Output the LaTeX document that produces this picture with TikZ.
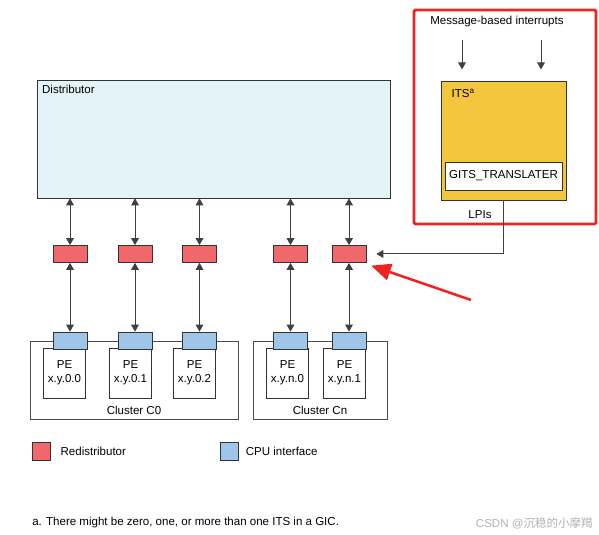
\documentclass[tikz,border=0pt]{standalone}
\usepackage{fontspec}
\setmainfont{Liberation Sans}
\newfontfamily\cjk{Noto Sans CJK SC}
\usepackage{xcolor}
\usetikzlibrary{positioning,arrows.meta,calc}
\definecolor{distfill}{HTML}{E3F3F8}
\definecolor{redist}{HTML}{F0676C}
\definecolor{cpuif}{HTML}{9FC5E8}
\definecolor{itsgold}{HTML}{F4C63E}
\definecolor{frame}{HTML}{EE2424}
\begin{document}
\begin{tikzpicture}[
    font=\fontsize{8.2}{10}\selectfont,
    box/.style={draw=black!80,line width=0.5pt,inner sep=0pt},
    rd/.style={box,fill=redist,minimum width=0.85cm,minimum height=0.425cm},
    cpu/.style={box,fill=cpuif,minimum width=0.85cm,minimum height=0.425cm},
    pe/.style={box,fill=white,minimum width=1.05cm,minimum height=1.25cm,align=center},
    clu/.style={box,draw=black!70},
    arr/.style={-{Triangle[length=5pt,width=5.5pt]},black!75,line width=0.7pt},
    darr/.style={{Triangle[length=5pt,width=5.5pt]}-{Triangle[length=5pt,width=5.5pt]},black!75,line width=0.7pt},
    lab/.style={inner sep=0pt,anchor=west}
  ]
    \useasboundingbox (0,0) rectangle (14.975,13.375);
    \node[draw=frame,line width=2pt,rounded corners=1pt,minimum width=4.55cm,minimum height=5.35cm] (frm) at (12.625,10.45) {};
    \node (msg) at (12.425,12.825) {Message-based interrupts};
    \node[box,fill=itsgold,minimum width=3.125cm,minimum height=2.975cm] (its) at (12.5875,9.8625) {};
    \node[lab,anchor=north west] (itslab) at ($(its.north west)+(0.27,-0.2)$) {ITS\textsuperscript{a}};
    \node[box,fill=white,minimum width=2.925cm,minimum height=0.7cm] (gits) at (12.5875,8.975) {GITS\_TRANSLATER};
    \node (lpi) at (12.0,8.0) {LPIs};
    \coordinate (in1) at (11.55,12.375);
    \coordinate (in2) at (13.525,12.375);
    \draw[arr,shorten >=0.28cm] (in1) -- (in1 |- its.north);
    \draw[arr,shorten >=0.28cm] (in2) -- (in2 |- its.north);

    \node[box,fill=distfill,minimum width=8.825cm,minimum height=2.95cm] (dist) at (5.3375,9.9) {};
    \node[lab,anchor=north west] (distlab) at ($(dist.north west)+(0.13,-0.12)$) {Distributor};

    \node[rd] (r1) at (1.75,7.025) {};
    \node[rd] (r2) at (3.375,7.025) {};
    \node[rd] (r3) at (4.9875,7.025) {};
    \node[rd] (r4) at (7.2625,7.025) {};
    \node[rd] (r5) at (8.725,7.025) {};

    \node[clu,minimum width=5.2cm,minimum height=1.95cm] (cl0) at (3.35,3.875) {};
    \node[clu,minimum width=3.35cm,minimum height=1.95cm] (cln) at (8.0,3.875) {};
    \node[above=0cm of cl0.south] (cl0lab) {Cluster C0};
    \node[above=0cm of cln.south] (clnlab) {Cluster Cn};

    \node[pe] (p1) at (1.6125,4.05) {PE\\x.y.0.0};
    \node[pe] (p2) at (3.2625,4.05) {PE\\x.y.0.1};
    \node[pe] (p3) at (4.8625,4.05) {PE\\x.y.0.2};
    \node[pe] (p4) at (7.1875,4.05) {PE\\x.y.n.0};
    \node[pe] (p5) at (8.6125,4.05) {PE\\x.y.n.1};

    \node[cpu] (c1) at (1.75,4.8625) {};
    \node[cpu] (c2) at (3.375,4.8625) {};
    \node[cpu] (c3) at (4.9875,4.8625) {};
    \node[cpu] (c4) at (7.2625,4.8625) {};
    \node[cpu] (c5) at (8.725,4.8625) {};

    \draw[darr] (r1.north) -- (r1.north |- dist.south); \draw[darr] (r1.south) -- (c1.north);
    \draw[darr] (r2.north) -- (r2.north |- dist.south); \draw[darr] (r2.south) -- (c2.north);
    \draw[darr] (r3.north) -- (r3.north |- dist.south); \draw[darr] (r3.south) -- (c3.north);
    \draw[darr] (r4.north) -- (r4.north |- dist.south); \draw[darr] (r4.south) -- (c4.north);
    \draw[darr] (r5.north) -- (r5.north |- dist.south); \draw[darr] (r5.south) -- (c5.north);
    \draw[arr,shorten >=0.25cm] (its.south) |- (r5.east);

    \coordinate (hint) at (11.775,5.875);
    \draw[frame,line width=1.8pt,-{Triangle[length=14pt,width=12pt]}] (hint) -- ($(r5.south east)+(0.12,-0.07)$);

    \node[rd,minimum width=0.45cm,minimum height=0.45cm] (keyrd) at (1.025,2.1) {};
    \node[lab,right=0.25cm of keyrd] (keyrdlab) {Redistributor};
    \node[cpu,minimum width=0.45cm,minimum height=0.45cm] (keycpu) at (5.725,2.1) {};
    \node[lab,right=0.18cm of keycpu] (keycpulab) {CPU interface};

    \node[lab] (note) at (0.8,0.3) {a. There might be zero, one, or more than one ITS in a GIC.};
    \node[lab,anchor=east,text=black!30] (wm) at (14.825,0.3) {CSDN @{\cjk 沉稳的小摩羯}};
  \end{tikzpicture}
\end{document}
